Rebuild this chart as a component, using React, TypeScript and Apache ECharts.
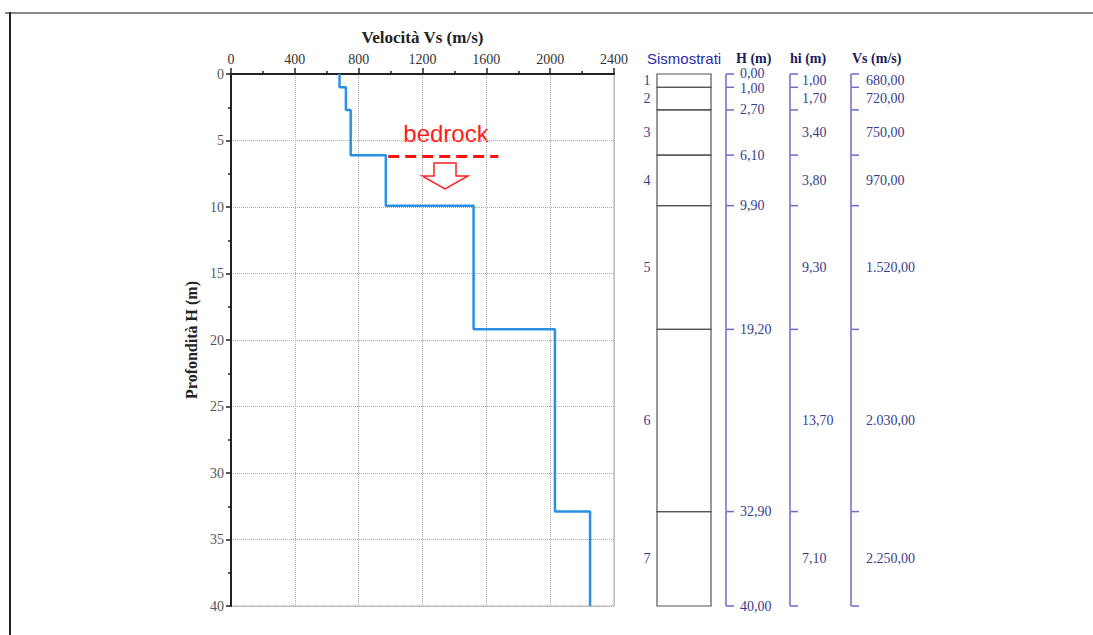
import React, { useEffect, useRef } from "react";
import * as echarts from "echarts";

// ---- data ----
const layerLabels = ["1", "2", "3", "4", "5", "6", "7"];
const layerTops = [0, 1.0, 2.7, 6.1, 9.9, 19.2, 32.9];
const layerThickness = [1.0, 1.7, 3.4, 3.8, 9.3, 13.7, 7.1];
const layerVs = [680, 720, 750, 970, 1520, 2030, 2250];
const maxDepth = 40;
const vsMax = 2400;
const vsInterval = 400;
const depthInterval = 5;
const bedrockDepth = 6.2;
const bedrockRange = [985, 1675];

const fmt = (v: number) => {
  const [int, dec] = v.toFixed(2).split(".");
  const withSep = int.replace(/\B(?=(\d{3})+(?!\d))/g, ".");
  return withSep + "," + dec;
};

const SERIF = "'Liberation Serif', 'DejaVu Serif', serif";
const SANS = "'Liberation Sans', Arial, sans-serif";
const NAVY = "#3c3c8c";
const BRACKET = "#6d6dc2";

export default function App() {
  const ref = useRef<HTMLDivElement>(null);
  useEffect(() => {
    if (!ref.current) return;
    const chart = echarts.init(ref.current, undefined, { renderer: "svg" });

    const stepData: number[][] = [];
    layerTops.forEach((t, i) => {
      stepData.push([layerVs[i], t]);
      stepData.push([layerVs[i], t + layerThickness[i]]);
    });

    const layerData = layerTops.map((t, i) => [i, t, t + layerThickness[i]]);

    const renderLayer = (params: any, api: any) => {
      const i = api.value(0);
      const top = api.value(1);
      const bot = api.value(2);
      const yT = api.coord([0, top])[1];
      const yB = api.coord([0, bot])[1];
      const yM = (yT + yB) / 2;
      const txt = (x: number, y: number, s: string, color = NAVY, align = "left", font = SERIF) => ({
        type: "text",
        style: { x, y, text: s, fill: color, font: `14px ${font}`, align, verticalAlign: "middle" },
      });
      const ln = (x1: number, y1: number, x2: number, y2: number, stroke: string, w = 1.5) => ({
        type: "line",
        shape: { x1, y1, x2, y2 },
        style: { stroke, lineWidth: w },
      });
      const children: any[] = [
        {
          type: "rect",
          shape: { x: 657, y: yT, width: 54, height: yB - yT },
          style: { fill: "none", stroke: "#555", lineWidth: 1.2 },
        },
        txt(647, yM, layerLabels[i], NAVY, "center"),
        ln(726, yT, 726, yB, BRACKET),
        ln(790, yT, 790, yB, BRACKET),
        ln(851, yT, 851, yB, BRACKET),
        ln(726, yT, 734, yT, BRACKET),
        ln(790, yT, 798, yT, BRACKET),
        ln(851, yT, 859, yT, BRACKET),
        txt(740, i === 0 ? yT - 1 : i === 1 ? yT + 1 : yT, fmt(top)),
        txt(802, yM, fmt(layerThickness[i])),
        txt(866, yM, fmt(layerVs[i])),
      ];
      if (i === layerTops.length - 1) {
        children.push(
          ln(726, yB, 734, yB, BRACKET),
          ln(790, yB, 798, yB, BRACKET),
          ln(851, yB, 859, yB, BRACKET),
          txt(740, yB, fmt(bot))
        );
      }
      return { type: "group", children };
    };

    chart.setOption({
      animation: false,
      grid: [
        { left: 231, top: 74, width: 383, height: 532, show: true, borderColor: "#aaa", borderWidth: 1 },
        { left: 620, top: 74, width: 300, height: 532, show: false },
      ],
      xAxis: [
        {
          gridIndex: 0,
          type: "value",
          position: "top",
          min: 0,
          max: vsMax,
          interval: vsInterval,
          name: "Velocità Vs (m/s)",
          nameLocation: "middle",
          nameGap: 28,
          nameTextStyle: { fontFamily: SERIF, fontWeight: "bold", fontSize: 17, color: "#222" },
          axisLine: { show: true, lineStyle: { color: "#222", width: 2 } },
          axisTick: { show: true, length: 6, lineStyle: { color: "#222", width: 1.5 } },
          minorTick: { show: true, splitNumber: 2, length: 3, lineStyle: { color: "#222", width: 1.5 } },
          axisLabel: { fontFamily: SERIF, fontSize: 14, color: "#333", margin: 8, formatter: (v: number) => String(v) },
          splitLine: { show: true, lineStyle: { color: "#aaa", type: "dotted", width: 1 } },
        },
        { gridIndex: 1, type: "value", min: 0, max: 300, show: false },
      ],
      yAxis: [
        {
          gridIndex: 0,
          type: "value",
          inverse: true,
          min: 0,
          max: maxDepth,
          interval: depthInterval,
          name: "Profondità H (m)",
          nameLocation: "middle",
          nameGap: 32,
          nameRotate: 90,
          nameTextStyle: { fontFamily: SERIF, fontWeight: "bold", fontSize: 16, color: "#222" },
          axisLine: { show: true, lineStyle: { color: "#222", width: 2 } },
          axisTick: { show: true, length: 5, lineStyle: { color: "#222", width: 1.5 } },
          minorTick: { show: true, splitNumber: 2, length: 3, lineStyle: { color: "#222", width: 1.5 } },
          axisLabel: { fontFamily: SERIF, fontSize: 14, color: "#555", margin: 7, formatter: (v: number) => String(v) },
          splitLine: { show: true, lineStyle: { color: "#aaa", type: "dotted", width: 1 } },
        },
        { gridIndex: 1, type: "value", inverse: true, min: 0, max: maxDepth, show: false },
      ],
      series: [
        {
          type: "line",
          xAxisIndex: 0,
          yAxisIndex: 0,
          data: stepData,
          showSymbol: false,
          lineStyle: { color: "#2b8fe3", width: 2.5 },
          markLine: {
            silent: true,
            symbol: "none",
            label: { show: false },
            lineStyle: { color: "#ff1010", type: [11, 6], width: 3 },
            data: [[{ coord: [bedrockRange[0], bedrockDepth] }, { coord: [bedrockRange[1], bedrockDepth] }]],
          },
        },
        {
          type: "custom",
          xAxisIndex: 1,
          yAxisIndex: 1,
          clip: false,
          data: layerData,
          encode: { x: 0, y: 1 },
          renderItem: renderLayer,
        },
      ],
      graphic: [
        { type: "line", shape: { x1: 5, y1: 13, x2: 1093, y2: 13 }, style: { stroke: "#888", lineWidth: 2 } },
        { type: "line", shape: { x1: 10, y1: 12, x2: 10, y2: 635 }, style: { stroke: "#222", lineWidth: 2 } },
        {
          type: "text",
          style: { x: 446, y: 133, text: "bedrock", fill: "#ff1a1a", font: `24px ${SANS}`, align: "center", verticalAlign: "middle" },
        },
        {
          type: "polygon",
          shape: { points: [[434, 163], [456, 163], [456, 176], [468, 176], [445, 189], [422, 176], [434, 176]] },
          style: { fill: "none", stroke: "#ff2020", lineWidth: 1.5 },
        },
        {
          type: "text",
          style: { x: 647, y: 58, text: "Sismostrati", fill: "#2b2bb0", font: `15px ${SANS}`, align: "left", verticalAlign: "middle" },
        },
        {
          type: "text",
          style: { x: 736, y: 58, text: "H (m)", fill: "#1c1c5c", font: `bold 14px ${SERIF}`, align: "left", verticalAlign: "middle" },
        },
        {
          type: "text",
          style: { x: 790, y: 58, text: "hi (m)", fill: "#1c1c5c", font: `bold 14px ${SERIF}`, align: "left", verticalAlign: "middle" },
        },
        {
          type: "text",
          style: { x: 852, y: 58, text: "Vs (m/s)", fill: "#1c1c5c", font: `bold 14px ${SERIF}`, align: "left", verticalAlign: "middle" },
        },
      ],
    });
    return () => chart.dispose();
  }, []);
  return <div ref={ref} style={{ position: "fixed", left: 0, top: 0, width: 1093, height: 635, background: "#fff" }} />;
}
